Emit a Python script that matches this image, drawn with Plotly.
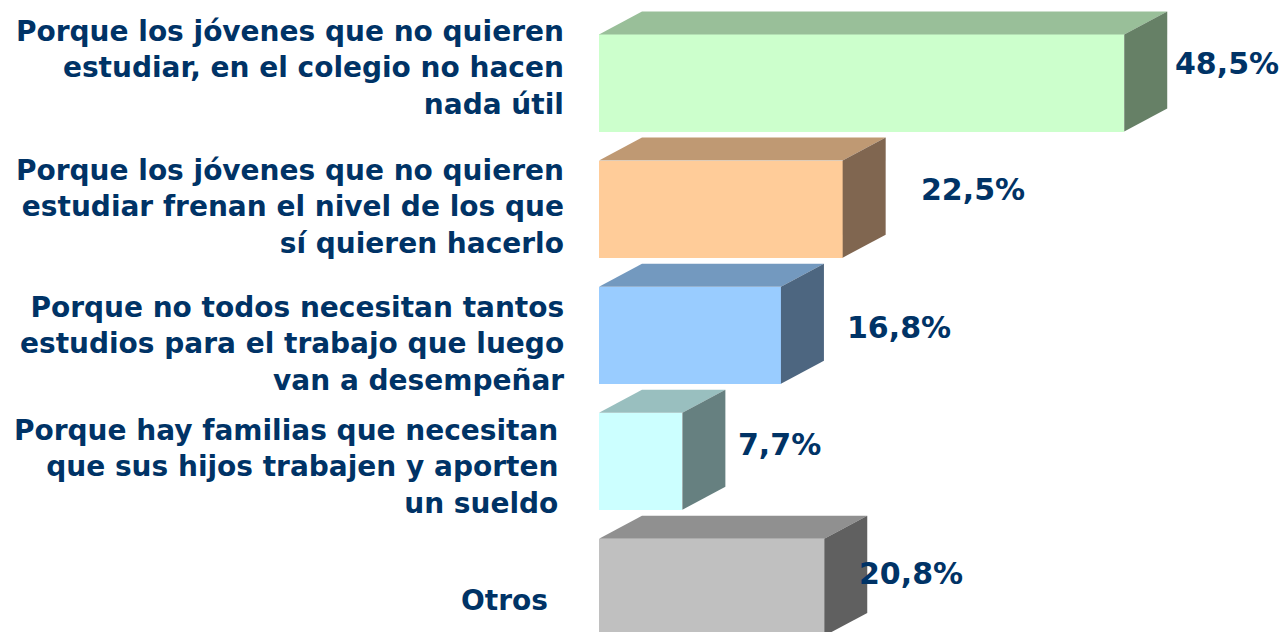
import plotly.graph_objects as go

categories = [
    "Porque los jóvenes que no quieren<br>estudiar, en el colegio no hacen<br>nada útil",
    "Porque los jóvenes que no quieren<br>estudiar frenan el nivel de los que<br>sí quieren hacerlo",
    "Porque no todos necesitan tantos<br>estudios para el trabajo que luego<br>van a desempeñar",
    "Porque hay familias que necesitan<br>que sus hijos trabajen y aporten<br>un sueldo",
    "Otros",
]
values = [48.5, 22.5, 16.8, 7.7, 20.8]
value_labels = ["48,5%", "22,5%", "16,8%", "7,7%", "20,8%"]

front_colors = ["#CCFFCC", "#FFCC99", "#99CCFF", "#CCFFFF", "#C0C0C0"]
top_colors = ["#99BF99", "#BF9973", "#7399BF", "#99BFBF", "#909090"]
side_colors = ["#668066", "#806650", "#4D6680", "#668080", "#606060"]

# style / layout constants
BAR_H = 0.77
DX = 3.97      # depth in x units
DY = 0.1824    # depth in y units
TXT = "#003366"
label_xshift = [-33, -33, -33, -39, -49]
label_yshift = [15, 2, -9, -6, -13]
value_xshift = [49, 76, 64, 54, 33]
value_yshift = [20, 20, 8, 17, 14]

fig = go.Figure()
ys = list(range(len(values)))

for i, v in enumerate(values):
    y0 = ys[i] - BAR_H / 2
    y1 = ys[i] + BAR_H / 2
    # top face
    fig.add_trace(go.Scatter(
        x=[0, v, v + DX, DX, 0], y=[y0, y0, y0 - DY, y0 - DY, y0],
        fill="toself", fillcolor=top_colors[i], mode="lines",
        line=dict(width=0, color=top_colors[i]), hoverinfo="skip", showlegend=False))
    # side face
    fig.add_trace(go.Scatter(
        x=[v, v + DX, v + DX, v, v], y=[y0, y0 - DY, y1 - DY, y1, y0],
        fill="toself", fillcolor=side_colors[i], mode="lines",
        line=dict(width=0, color=side_colors[i]), hoverinfo="skip", showlegend=False))

# front faces
fig.add_trace(go.Bar(
    x=values, y=ys, orientation="h", width=BAR_H,
    marker=dict(color=front_colors, line=dict(width=0)),
    showlegend=False, hoverinfo="skip"))

for i, v in enumerate(values):
    fig.add_annotation(
        xref="paper", yref="y", x=0, y=ys[i], text=categories[i],
        xanchor="right", yanchor="middle", align="right",
        xshift=label_xshift[i], yshift=label_yshift[i], showarrow=False,
        font=dict(family="DejaVu Sans", size=28, color=TXT, weight="bold"))
    fig.add_annotation(
        xref="x", yref="y", x=v, y=ys[i], text=value_labels[i],
        xanchor="left", yanchor="middle",
        xshift=value_xshift[i], yshift=value_yshift[i], showarrow=False,
        font=dict(family="DejaVu Sans", size=30, color=TXT, weight="bold"))

# page body has an 8px margin, so the figure is sized/offset to compensate
fig.update_layout(
    width=1279, height=624,
    margin=dict(l=591, r=0, t=0, b=0),
    paper_bgcolor="white", plot_bgcolor="white",
    xaxis=dict(range=[0, 63.53], visible=False, fixedrange=True),
    yaxis=dict(range=[4.354, -0.5948], visible=False, fixedrange=True),
    bargap=0,
)

fig.write_html("out.html")
